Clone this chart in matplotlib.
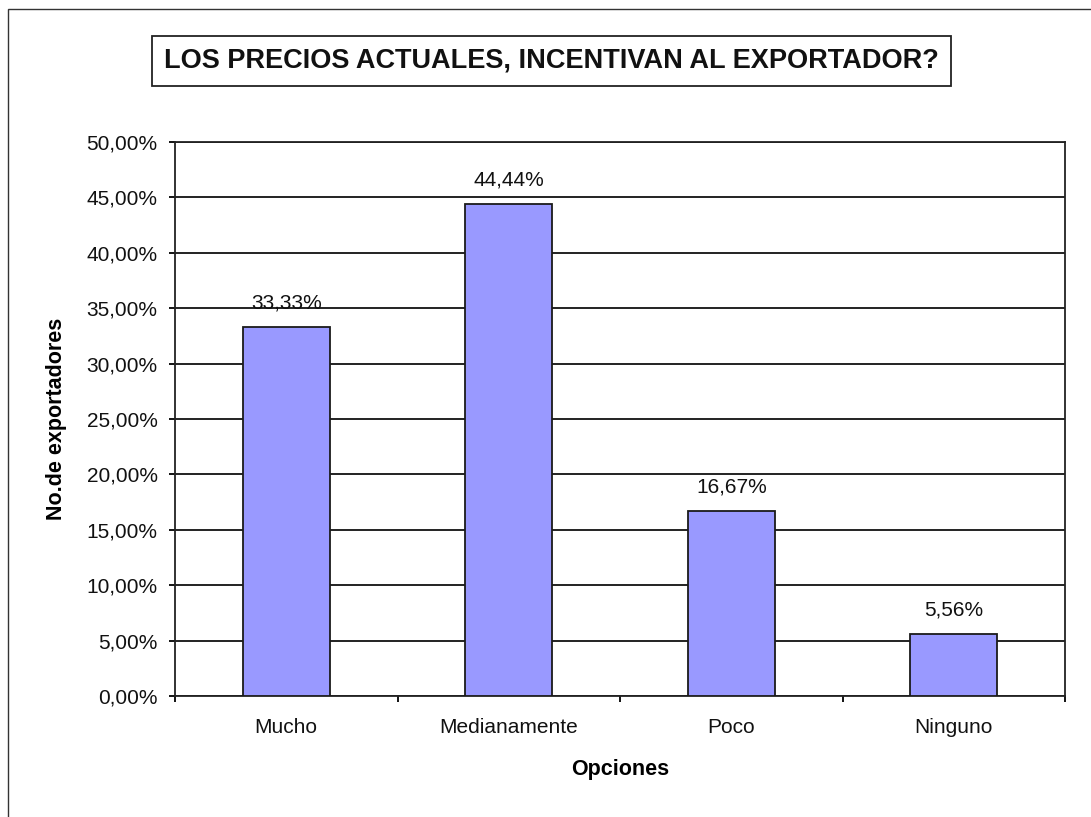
import matplotlib
matplotlib.use('Agg')
import matplotlib.pyplot as plt
from matplotlib.patches import Rectangle
import numpy as np

categorias = ['Mucho', 'Medianamente', 'Poco', 'Ninguno']
porcentajes = [33.33, 44.44, 16.67, 5.56]
ticks_y = [0, 5, 10, 15, 20, 25, 30, 35, 40, 45, 50]

titulo = 'LOS PRECIOS ACTUALES, INCENTIVAN AL EXPORTADOR?'
etiqueta_x = 'Opciones'
etiqueta_y = 'No.de exportadores'

plt.rcParams['font.family'] = ['Liberation Sans', 'DejaVu Sans']


def fmt_pct(v):
    return ('%.2f%%' % v).replace('.', ',')


fig = plt.figure(figsize=(10.91, 8.17), dpi=100)
W, H = 1091, 817

# Marco exterior (recortado a la derecha y abajo)
fig.patches.append(Rectangle((8 / W, -0.1), 1.2, 1.1 - 9 / H,
                             transform=fig.transFigure, fill=False,
                             edgecolor='#333333', linewidth=1.0))

ax = fig.add_axes([175 / W, 1 - 696 / H, (1065 - 175) / W, (696 - 142) / H])

x = np.arange(len(categorias))
ax.bar(x, porcentajes, width=0.39, color='#9999FF', edgecolor='#1a1a1a',
       linewidth=1.3, zorder=3)

for xi, v in zip(x, porcentajes):
    ax.text(xi, v + 1.3, fmt_pct(v), ha='center', va='bottom', fontsize=15,
            color='#111111')

ax.set_xlim(-0.5, len(categorias) - 0.5)
ax.set_ylim(0, 50)
ax.set_yticks(ticks_y)
ax.set_yticklabels([fmt_pct(t) for t in ticks_y], fontsize=15, color='#111111')
ax.set_xticks(x)
ax.set_xticklabels(categorias, fontsize=15, color='#111111')
ax.set_xticks(np.arange(len(categorias) + 1) - 0.5, minor=True)
ax.tick_params(axis='x', which='major', length=0, pad=16)
ax.tick_params(axis='x', which='minor', length=4.5, width=1.3, direction='out')
ax.tick_params(axis='y', length=4.5, width=1.3, direction='out', pad=8)

ax.yaxis.grid(True, color='#111111', linewidth=1.3, zorder=1)
ax.set_axisbelow(True)
for s in ax.spines.values():
    s.set_linewidth(1.3)
    s.set_color('#222222')

ax.set_xlabel(etiqueta_x, fontsize=15.5, fontweight='bold', labelpad=16)
ax.set_ylabel(etiqueta_y, fontsize=15.5, fontweight='bold', labelpad=14)

fig.text(551.5 / W, 1 - 61 / H, titulo, ha='center', va='center', fontsize=19.5,
         fontweight='bold', color='#111111',
         bbox=dict(boxstyle='square,pad=0.45', facecolor='white',
                   edgecolor='#222222', linewidth=1.3))

fig.savefig('out.png', dpi=100)
